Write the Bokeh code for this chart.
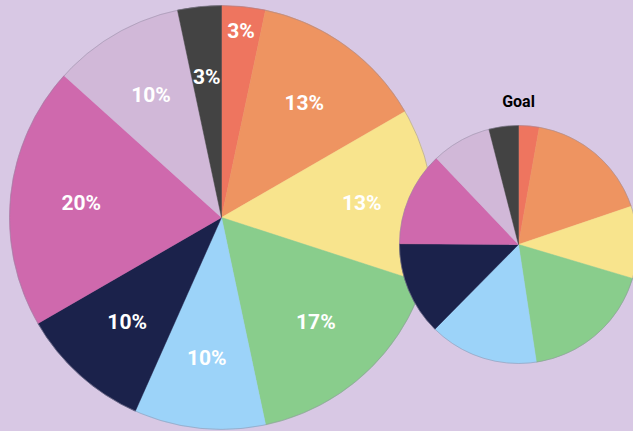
import math
from bokeh.plotting import figure
from bokeh.models import Range1d, ColumnDataSource
from bokeh.core.properties import value
from bokeh.embed import file_html
from bokeh.resources import INLINE

# ---- data ----
categories = ["A", "B", "C", "D", "E", "F", "G", "H", "I"]
colors = ["#ee755f", "#ee9461", "#f8e48d", "#89cd8c", "#9cd3f9", "#1b224b", "#cf69ad", "#d1b8d8", "#434343"]
current_values = [3.33, 13.33, 13.33, 16.67, 10.0, 10.0, 20.0, 10.0, 3.33]
current_labels = ["3%", "13%", "13%", "17%", "10%", "10%", "20%", "10%", "3%"]
goal_values = [2.8, 17.0, 9.8, 18.0, 14.8, 12.7, 12.8, 8.1, 4.0]
goal_title = "Goal"

BG = "#d8c8e4"
W, H = 633, 431

p = figure(width=W, height=H, output_backend="svg", toolbar_location=None,
           x_range=Range1d(0, W), y_range=Range1d(0, H),
           min_border=0, background_fill_color=BG, border_fill_color=BG,
           outline_line_color=None)
p.axis.visible = False
p.grid.visible = False


def pie(vals, cx, cy, r):
    total = sum(vals)
    starts, ends, mids = [], [], []
    acc = 0.0
    for v in vals:
        a0 = math.pi / 2 - 2 * math.pi * acc / total
        acc += v
        a1 = math.pi / 2 - 2 * math.pi * acc / total
        starts.append(a1)
        ends.append(a0)
        mids.append((a0 + a1) / 2)
    src = ColumnDataSource(dict(start=starts, end=ends, color=colors,
                                x=[cx] * len(vals), y=[cy] * len(vals)))
    p.wedge(x="x", y="y", radius=r, start_angle="start", end_angle="end",
            fill_color="color", line_color="color", line_width=0.5, source=src)
    p.circle(x=[cx], y=[cy], radius=r, fill_color=None,
             line_color="#9088a0", line_alpha=0.6, line_width=0.8)
    return mids


# big pie (current) -- data coords: y = 431 - screen y
bx, by, br = 221, 214, 212
mids = pie(current_values, bx, by, br)
lr = [0.885 if i == 0 else 0.665 for i in range(len(mids))]
lx = [bx + br * f * math.cos(m) for f, m in zip(lr, mids)]
ly = [by + br * f * math.sin(m) for f, m in zip(lr, mids)]
p.text(x=lx, y=ly, text=current_labels, text_color="white",
       text_font=value("Roboto"), text_font_style="bold", text_font_size="21px",
       text_align="center", text_baseline="middle")

# small pie (goal)
sx, sy, sr = 518, 187, 119
pie(goal_values, sx, sy, sr)
p.text(x=[sx], y=[sy + sr + 24], text=[goal_title], text_color="black",
       text_font=value("Roboto"), text_font_style="bold", text_font_size="16px",
       text_align="center", text_baseline="middle")

html = file_html(p, INLINE)
html = html.replace("<head>", "<head><style>html,body{margin:0;padding:0;background:%s;overflow:hidden;}</style>" % BG, 1)
open("out.html", "w").write(html)
